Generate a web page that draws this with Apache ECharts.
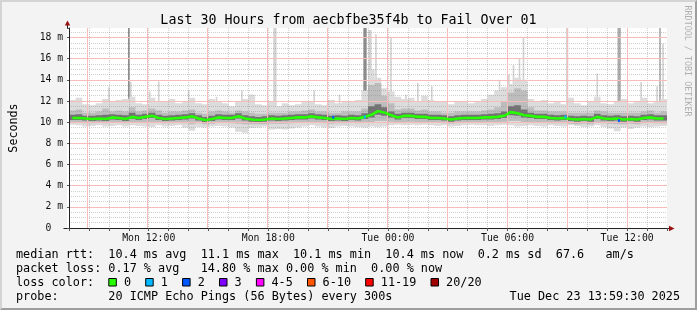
<!DOCTYPE html>
<html><head><meta charset="utf-8">
<script src="https://cdn.jsdelivr.net/npm/echarts@6/dist/echarts.min.js"></script>
<style>
html,body{margin:0;padding:0;background:#f3f3f3;}
#wrap{position:relative;width:697px;height:310px;overflow:hidden;}
#chart{position:absolute;left:0;top:0;width:697px;height:310px;}
#frame{position:absolute;left:0;top:0;width:697px;height:310px;box-sizing:border-box;border:2px solid;border-color:#d4d4d4 #9e9e9e #9e9e9e #d4d4d4;pointer-events:none;}
</style></head><body>
<div id="wrap"><div id="chart"></div><div id="frame"></div></div>
<script>
// ---------------- data ----------------
const titleText = 'Last 30 Hours from aecbfbe35f4b to Fail Over 01';
const startHour = 8;          // Mon 08:00, in hours since Mon 00:00
const endHour = 38;           // Tue 14:00
const binHours = 1 / 3;       // 20-minute bins
const stepHours = 1 / 12;     // 5-minute probe step

const medianRtt = [
 10.4,10.4,10.35,10.3,10.35,10.3,10.45,10.4,10.3,10.5,10.4,10.5,10.6,10.4,10.3,10.35,10.4,10.45,10.55,10.35,10.2,10.3,10.45,
 10.4,10.4,10.55,10.35,10.25,10.2,10.25,10.35,10.3,10.35,10.4,10.45,10.45,10.55,10.45,10.4,10.3,10.35,10.3,10.4,10.35,10.5,10.7,
 11.05,10.9,10.65,10.45,10.6,10.6,10.5,10.5,10.4,10.4,10.35,10.25,10.35,10.4,10.4,10.4,10.45,10.45,10.5,10.6,10.95,10.85,10.65,
 10.6,10.5,10.5,10.4,10.35,10.4,10.3,10.25,10.3,10.25,10.5,10.35,10.3,10.35,10.25,10.3,10.25,10.4,10.45,10.35,10.35
];
const smokeMax = [
 12.1,12.3,11.7,11.6,11.8,12.2,11.9,12.1,12.2,12.4,11.8,11.7,12.3,12.0,11.9,12.2,11.8,11.9,12.3,11.8,11.7,12.2,11.9,
 11.8,11.5,11.9,12.2,12.6,11.7,11.6,11.9,11.5,11.8,11.6,11.7,11.9,12.0,11.7,11.6,12.1,11.8,11.9,12.0,12.1,13.0,15.0,
 14.2,13.2,12.9,12.4,12.2,12.3,12.0,12.5,12.1,11.9,12.0,11.7,11.9,12.0,11.8,11.9,12.2,12.6,13.0,13.3,13.6,14.2,14.0,
 12.2,11.9,12.1,11.8,12.0,11.7,12.3,11.8,11.6,11.9,12.4,11.8,11.7,11.9,12.2,11.8,12.0,12.3,11.8,12.0,12.2
];
const smokeMin = [
 9.75,9.7,9.6,9.65,9.7,9.6,9.65,9.7,9.6,9.7,9.65,9.6,9.55,9.7,9.6,9.65,9.7,9.5,9.2,9.55,9.5,9.6,9.65,
 9.6,9.5,9.1,9.0,9.45,9.5,9.6,9.3,9.35,9.3,9.4,9.5,9.6,9.7,9.6,9.5,9.45,9.6,9.65,9.6,9.55,9.5,9.6,
 9.55,9.6,9.7,9.75,9.7,9.75,9.7,9.75,9.7,9.65,9.7,9.6,9.65,9.7,9.75,9.7,9.7,9.65,9.7,9.75,9.7,9.6,9.65,
 9.7,9.65,9.6,9.7,9.65,9.6,9.7,9.65,9.55,9.6,9.7,9.55,9.4,9.15,9.5,9.35,9.5,9.6,9.55,9.6,9.65
];
const midTop = [
 11.1,11.2,10.9,10.9,11.0,11.3,11.0,11.1,11.0,11.4,11.0,11.1,11.3,11.1,10.9,11.0,11.0,11.1,11.2,10.9,10.8,11.0,11.1,
 11.0,10.9,11.1,11.0,10.9,10.8,10.8,10.9,10.9,10.9,11.0,11.0,11.1,11.2,11.0,11.0,10.9,10.9,11.0,11.0,11.0,11.3,13.5,
 13.7,12.5,11.8,11.2,11.3,11.3,11.1,11.2,11.0,11.0,10.9,10.9,11.0,11.0,11.0,11.0,11.1,11.2,11.4,12.0,12.8,13.2,13.0,
 11.4,11.1,11.1,11.0,11.0,11.0,10.9,10.9,10.9,10.9,11.1,11.0,10.9,10.9,10.9,10.9,10.9,11.0,11.1,10.9,11.0
];
const midBot = [
 9.95,9.95,9.9,9.9,9.95,9.9,10.0,9.95,9.9,10.0,9.95,10.0,10.0,9.95,9.9,9.9,9.95,9.9,9.8,9.9,9.8,9.85,9.95,
 9.95,9.9,9.85,9.8,9.8,9.8,9.8,9.85,9.85,9.85,9.9,9.95,9.95,10.0,9.95,9.9,9.85,9.9,9.9,9.95,9.9,9.95,10.0,
 10.1,10.1,10.05,10.0,10.0,10.05,10.0,10.0,9.95,9.95,9.9,9.85,9.9,9.95,9.95,9.95,10.0,10.0,10.0,10.05,10.1,10.1,10.0,
 10.0,9.95,9.95,9.9,9.9,9.9,9.85,9.8,9.85,9.8,9.95,9.9,9.85,9.8,9.8,9.85,9.8,9.9,9.95,9.9,9.9
];
const darkTop = [
 10.7,10.75,10.6,10.6,10.65,10.7,10.75,10.7,10.65,10.9,10.7,10.8,10.9,10.7,10.6,10.65,10.7,10.75,10.85,10.65,10.5,10.6,10.75,
 10.7,10.7,10.85,10.65,10.55,10.5,10.55,10.65,10.6,10.65,10.7,10.75,10.75,10.85,10.75,10.7,10.6,10.65,10.6,10.7,10.65,10.85,11.5,
 11.7,11.4,11.0,10.8,10.9,10.9,10.8,10.8,10.7,10.7,10.65,10.55,10.65,10.7,10.7,10.7,10.75,10.8,10.85,11.0,11.5,11.6,11.2,
 10.9,10.8,10.8,10.7,10.65,10.7,10.6,10.55,10.6,10.55,10.8,10.65,10.6,10.65,10.55,10.6,10.55,10.7,10.75,10.65,10.65
];
const darkBot = [
 10.2,10.2,10.15,10.1,10.15,10.1,10.25,10.2,10.1,10.3,10.2,10.3,10.4,10.2,10.1,10.15,10.2,10.25,10.35,10.15,10.0,10.1,10.25,
 10.2,10.2,10.35,10.15,10.05,10.0,10.05,10.15,10.1,10.15,10.2,10.25,10.25,10.35,10.25,10.2,10.1,10.15,10.1,10.2,10.15,10.3,10.45,
 10.7,10.6,10.45,10.25,10.4,10.4,10.3,10.3,10.2,10.2,10.15,10.05,10.15,10.2,10.2,10.2,10.25,10.25,10.3,10.4,10.65,10.6,10.45,
 10.4,10.3,10.3,10.2,10.15,10.2,10.1,10.05,10.1,10.05,10.3,10.15,10.1,10.15,10.05,10.1,10.05,10.2,10.25,10.15,10.15
];
// isolated smoke spikes: [hour, top (ms), shade 0 light / 1 mid / 2 dark, width in 5-min steps]
const spikes = [
 [10.0,13.3,0,1],[11.0,18.9,2,1],[11.1,13.8,0,1],[12.05,12.9,0,1],[12.5,13.85,0,1],[14.0,13.0,0,1],
 [15.4,12.4,0,1],[16.67,13.0,0,1],[17.17,12.6,0,1],[18.33,18.9,0,2],[20.3,13.0,0,1],[21.57,12.6,0,1],
 [22.85,18.9,2,2],[23.1,18.7,0,2],[23.4,18.3,0,1],[24.15,18.0,0,1],[24.9,12.6,0,1],[25.5,13.7,0,1],
 [26.2,13.4,0,1],[29.6,14.0,0,1],[30.07,14.5,0,1],[30.3,15.4,0,1],[30.6,16.0,0,1],[30.8,18.0,0,1],
 [33.0,18.9,1,1],[34.5,14.6,0,1],[35.6,18.9,1,2],[36.7,13.8,0,1],[37.5,13.4,0,1],[37.65,18.9,1,1],[37.8,17.4,0,1]
];
// median samples with packet loss: [hour, median ms, loss colour index]
const lossMarks = [[21.25,10.47,2],[22.83,10.5,1],[32.9,10.5,1],[35.58,10.15,2]];

const xTickHours = [12, 18, 24, 30, 36];
const xTickLabels = ['Mon 12:00', 'Mon 18:00', 'Tue 00:00', 'Tue 06:00', 'Tue 12:00'];
const majorGridStartHour = 6;   // major (red) vertical grid every 3 h
const yMax = 18.9;

const rttStats = ['10.4', '11.1', '10.1', '10.4', '0.2', '67.6'];
const lossStats = ['0.17', '14.80', '0.00', '0.00'];
const lossLabels = ['0', '1', '2', '3', '4-5', '6-10', '11-19', '20/20'];
const lossColors = ['#26ff00', '#00b8ff', '#0059ff', '#7e00ff', '#ff00ff', '#ff5500', '#ff0000', '#a10000'];
const probeText = '20 ICMP Echo Pings (56 Bytes) every 300s';
const dateText = 'Tue Dec 23 13:59:30 2025';
const creditText = 'RRDTOOL / TOBI OETIKER';

// ---------------- styles ----------------
const MONO = '"DejaVu Sans Mono", monospace';
const gridGrey = 'rgba(128,128,128,0.38)';
const gridRed = '#f6bcbc';
const bandColors = ['#dcdcdc', '#bdbdbd', '#737373'];
const spikeColors = ['#d2d2d2', '#ababab', '#8c8c8c'];
const bands = [
  {lo: smokeMin, hi: smokeMax},
  {lo: midBot, hi: midTop},
  {lo: darkBot, hi: darkTop}
];
const PLOT_LEFT = 67, PLOT_RIGHT = 30, PLOT_TOP = 28, PLOT_BOTTOM = 82, PX_PER_HOUR = 20;
const AX = 67.5, AY = 228.5;   // crisp axis-line positions

function bandPoints(api, lo, hi) {
  const pts = [];
  for (let i = 0; i < hi.length; i++) {
    const h0 = startHour + i * binHours, h1 = h0 + binHours;
    pts.push(api.coord([h0, hi[i]]), api.coord([h1, hi[i]]));
  }
  for (let i = lo.length - 1; i >= 0; i--) {
    const h0 = startHour + i * binHours, h1 = h0 + binHours;
    pts.push(api.coord([h1, lo[i]]), api.coord([h0, lo[i]]));
  }
  return pts;
}

const chart = echarts.init(document.getElementById('chart'), null, {renderer: 'canvas'});

// legend graphics
const legendFont = '11.8px ' + MONO;
const charW = 7.1, legX = 16;
const rows = [
  'median rtt:  ' + rttStats[0] + ' ms avg  ' + rttStats[1] + ' ms max  ' + rttStats[2] + ' ms min  ' +
    rttStats[3] + ' ms now  ' + rttStats[4] + ' ms sd  ' + rttStats[5] + '   am/s',
  'packet loss: ' + lossStats[0] + ' % avg   ' + lossStats[1] + ' % max ' + lossStats[2] + ' % min  ' + lossStats[3] + ' % now',
  'loss color:',
  'probe:       ' + probeText
];
const rowY = [254.5, 268.5, 282.5, 296.5];
const graphics = [];
// white canvas of the plot area, underneath everything
graphics.push({type: 'rect', silent: true, z: -10,
  shape: {x: PLOT_LEFT, y: PLOT_TOP, width: 697 - PLOT_LEFT - PLOT_RIGHT, height: 310 - PLOT_TOP - PLOT_BOTTOM},
  style: {fill: '#ffffff'}});
rows.forEach((t, k) => graphics.push({type: 'text', x: legX, y: rowY[k], silent: true,
  style: {text: t, font: legendFont, fill: '#000', verticalAlign: 'middle', align: 'left'}}));
graphics.push({type: 'text', x: 680, y: rowY[3], silent: true,
  style: {text: dateText, font: legendFont, fill: '#000', verticalAlign: 'middle', align: 'right'}});
let bx = 108.3;
lossLabels.forEach((lab, k) => {
  graphics.push({type: 'rect', silent: true, shape: {x: bx + 0.5, y: 278.5, width: 7.5, height: 7.5},
    style: {fill: lossColors[k], stroke: '#000', lineWidth: 1}});
  const tx = bx + 15.6;
  graphics.push({type: 'text', x: tx, y: rowY[2], silent: true,
    style: {text: lab, font: legendFont, fill: '#000', verticalAlign: 'middle', align: 'left'}});
  bx = tx + lab.length * charW + 14.2;
});
// credit text on the right edge
graphics.push({type: 'text', x: 687.5, y: 61, rotation: -Math.PI / 2, silent: true,
  style: {text: creditText, font: '8.4px ' + MONO, fill: '#b0b0b0', align: 'center', verticalAlign: 'middle'}});
// axis arrows
graphics.push({type: 'line', silent: true, shape: {x1: AX, y1: 24, x2: AX, y2: 28}, style: {stroke: '#222', lineWidth: 1}});
graphics.push({type: 'polygon', silent: true, shape: {points: [[AX, 20.5], [AX - 2.7, 25.5], [AX + 2.7, 25.5]]}, style: {fill: '#9a1010'}});
graphics.push({type: 'line', silent: true, shape: {x1: AX - 4, y1: AY, x2: AX, y2: AY}, style: {stroke: '#222', lineWidth: 1}});
graphics.push({type: 'line', silent: true, shape: {x1: 667, y1: AY, x2: 670, y2: AY}, style: {stroke: '#222', lineWidth: 1}});
graphics.push({type: 'polygon', silent: true, shape: {points: [[674.5, AY], [669, AY - 2.7], [669, AY + 2.7]]}, style: {fill: '#9a1010'}});

const option = {
  animation: false,
  backgroundColor: '#f3f3f3',
  title: {text: titleText, left: 'center', top: 9.5,
    textStyle: {fontFamily: MONO, fontSize: 13.3, fontWeight: 'normal', color: '#000'}},
  grid: [
    {left: PLOT_LEFT, right: PLOT_RIGHT, top: PLOT_TOP, bottom: PLOT_BOTTOM, show: false},
    // same plot, extended leftwards so that its 3-hour ticks start at a multiple of 3
    {left: PLOT_LEFT - (startHour - majorGridStartHour) * PX_PER_HOUR, right: PLOT_RIGHT, top: PLOT_TOP, bottom: PLOT_BOTTOM, show: false}
  ],
  xAxis: [
    {type: 'value', gridIndex: 0, min: startHour, max: endHour, interval: 1, z: 3,
      axisLine: {show: true, onZero: false, lineStyle: {color: '#222', width: 1}},
      axisTick: {show: true, length: 3, lineStyle: {color: '#555'}},
      axisLabel: {interval: 0, hideOverlap: false, margin: 5, fontFamily: MONO, fontSize: 9.8, color: '#111',
        formatter: v => { const k = xTickHours.indexOf(v); return k >= 0 ? xTickLabels[k] : ''; }},
      splitLine: {show: true, showMinLine: false, showMaxLine: false, lineStyle: {color: gridGrey, type: [1, 1], width: 1}}},
    {type: 'value', gridIndex: 1, min: majorGridStartHour, max: endHour, interval: 3, z: 4,
      axisLine: {show: false}, axisTick: {show: false}, axisLabel: {show: false},
      splitLine: {show: true, showMinLine: false, showMaxLine: false, lineStyle: {color: gridRed, type: 'solid', width: 1}}}
  ],
  yAxis: [
    {type: 'value', gridIndex: 0, min: 0, max: yMax, interval: 0.5, z: 3,
      axisLine: {show: false}, axisTick: {show: false}, axisLabel: {show: false},
      splitLine: {show: true, showMinLine: false, showMaxLine: false, lineStyle: {color: gridGrey, type: [1, 1], width: 1}}},
    {type: 'value', gridIndex: 0, min: 0, max: yMax, interval: 2, z: 4, position: 'left',
      axisLine: {show: true, onZero: false, lineStyle: {color: '#222', width: 1}},
      axisTick: {show: true, length: 2, lineStyle: {color: '#555'}},
      axisLabel: {margin: 6, fontFamily: MONO, fontSize: 9.7, color: '#111',
        formatter: v => v === 0 ? '0\u00a0\u00a0' : (v % 2 === 0 ? v + ' m' : '')},
      splitLine: {show: true, showMinLine: false, showMaxLine: false, lineStyle: {color: gridRed, type: 'solid', width: 1}},
      name: 'Seconds', nameLocation: 'middle', nameRotate: 90, nameGap: 49,
      nameTextStyle: {fontFamily: MONO, fontSize: 11.7, color: '#000'}},
    {type: 'value', gridIndex: 1, min: 0, max: yMax, show: false, splitLine: {show: false}}
  ],
  series: [
    {type: 'custom', name: 'spikes', z: 1, clip: true, xAxisIndex: 0, yAxisIndex: 0,
      data: spikes, encode: {x: 0, y: 1},
      renderItem: (params, api) => {
        const h = api.value(0), top = api.value(1), shade = api.value(2), w = api.value(3) * stepHours;
        const p0 = api.coord([h - w / 2, top]);
        const p1 = api.coord([h + w / 2, 11]);
        return {type: 'rect', shape: {x: p0[0], y: p0[1], width: p1[0] - p0[0], height: p1[1] - p0[1]},
          style: {fill: spikeColors[shade]}};
      }},
    {type: 'custom', name: 'smoke', z: 1, clip: true, xAxisIndex: 0, yAxisIndex: 0,
      data: bands.map((b, k) => [startHour, 10, k]), encode: {x: 0, y: 1},
      renderItem: (params, api) => {
        const k = api.value(2);
        return {type: 'polygon', shape: {points: bandPoints(api, bands[k].lo, bands[k].hi)},
          style: {fill: bandColors[k]}};
      }},
    {type: 'line', name: 'median', z: 5, showSymbol: false, silent: true, xAxisIndex: 0, yAxisIndex: 0,
      data: medianRtt.map((m, i) => [startHour + (i + 0.5) * binHours, m]),
      lineStyle: {color: lossColors[0], width: 2.6}},
    {type: 'custom', name: 'loss', z: 6, xAxisIndex: 0, yAxisIndex: 0,
      data: lossMarks, encode: {x: 0, y: 1},
      renderItem: (params, api) => {
        const p0 = api.coord([api.value(0) - stepHours / 2, api.value(1)]);
        const p1 = api.coord([api.value(0) + stepHours / 2, api.value(1)]);
        return {type: 'rect', shape: {x: p0[0], y: p0[1] - 1.5, width: Math.max(2, p1[0] - p0[0]), height: 3},
          style: {fill: lossColors[api.value(2)]}};
      }}
  ],
  graphic: graphics
};
chart.setOption(option);
</script>
</body></html>
